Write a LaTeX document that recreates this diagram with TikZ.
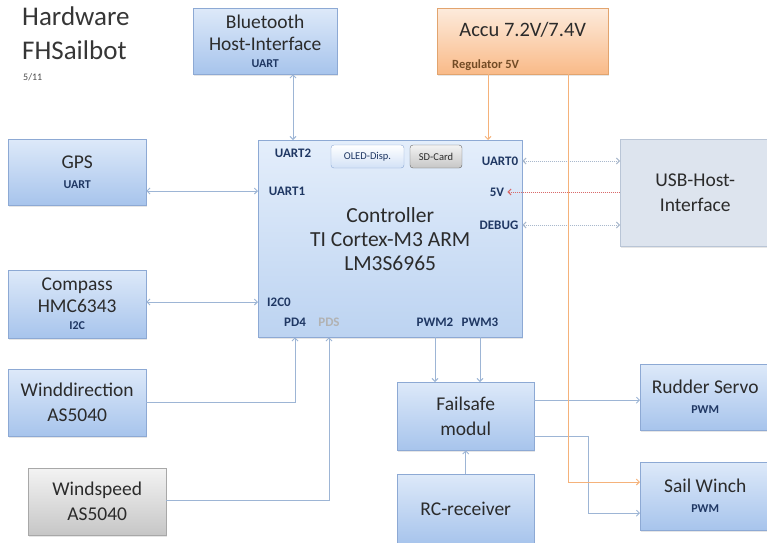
\documentclass[tikz,border=0pt]{standalone}
\usepackage{fontspec}
\setmainfont{Carlito}
\usetikzlibrary{positioning,arrows.meta,shadows}

\definecolor{txt}{HTML}{2B2B2B}
\definecolor{lbl}{HTML}{1F3763}
\definecolor{boxtop}{HTML}{DDE9F9}
\definecolor{boxbot}{HTML}{A7C4EC}
\definecolor{boxline}{HTML}{8DA9D4}
\definecolor{ctrtop}{HTML}{E4EEFB}
\definecolor{ctrbot}{HTML}{BCD3F1}
\definecolor{acctop}{HTML}{FDEBDC}
\definecolor{accbot}{HTML}{F9BA88}
\definecolor{accline}{HTML}{E2A46E}
\definecolor{grytop}{HTML}{F3F3F3}
\definecolor{grybot}{HTML}{C6C6C6}
\definecolor{gryline}{HTML}{A8A8A8}
\definecolor{usbfill}{HTML}{DDE4EE}
\definecolor{usbline}{HTML}{B9C5D6}
\definecolor{wire}{HTML}{9DB5D5}
\definecolor{pwr}{HTML}{F5B27A}
\definecolor{dbg}{HTML}{A9B8CC}
\definecolor{vcc}{HTML}{D86A6A}

\newcommand{\subtxt}[1]{{\fontsize{12}{14}\selectfont\bfseries\color{lbl}#1}}

\tikzset{>={Straight Barb[length=3pt,width=6pt]}}
\tikzset{
  block/.style={draw=boxline, top color=boxtop, bottom color=boxbot,
    anchor=north west, inner sep=0pt, align=center, text=txt,
    font=\fontsize{19.5}{25}\selectfont,
    drop shadow={opacity=0.2, shadow xshift=1pt, shadow yshift=-1.5pt}},
  grayblock/.style={block, draw=gryline, top color=grytop, bottom color=grybot},
  pin/.style={font=\fontsize{13}{15}\selectfont\bfseries, text=lbl, inner sep=0pt},
  chip/.style={rounded corners=3pt, minimum height=23pt, inner sep=0pt,
    font=\fontsize{10.5}{12}\selectfont},
  wire/.style={draw=wire, line width=0.9pt},
  power/.style={draw=pwr, line width=1pt},
  usblink/.style={draw=dbg, densely dotted, line width=1pt},
}

\begin{document}
\begin{tikzpicture}[x=1pt, y=-1pt]
  \useasboundingbox (0,0) rectangle (767,542);

  % title
  \node[anchor=north west, align=left, text=txt!95, inner sep=0pt,
    font=\fontsize{27}{34}\selectfont] (title) at (22,7) {Hardware\\FHSailbot};
  \node[anchor=north west, inner sep=0pt, text=txt!85,
    font=\fontsize{10}{12}\selectfont] (date) at (23,73) {5/11};

  % top row
  \node[block, minimum width=144pt, minimum height=66pt] (bt) at (193,8)
    {Bluetooth\\[-3pt]Host-Interface\\[-8pt]\subtxt{UART}};
  \node[block, draw=accline, top color=acctop, bottom color=accbot,
    minimum width=171pt, minimum height=66pt] (accu) at (437,8) {};
  \node[inner sep=0pt, text=txt, font=\fontsize{20.5}{24}\selectfont] (accutxt)
    at ([yshift=-22pt]accu.north) {Accu 7.2V/7.4V};
  \node[anchor=south west, inner sep=0pt, text=brown!60!black,
    font=\fontsize{12.5}{14}\selectfont\bfseries] (reg)
    at ([xshift=15pt,yshift=4pt]accu.south west) {Regulator 5V};

  % controller
  \node[block, top color=ctrtop, bottom color=ctrbot,
    minimum width=264pt, minimum height=197pt,
    font=\fontsize{21.5}{24}\selectfont] (ctrl) at (258,140)
    {Controller\\TI Cortex-M3 ARM\\LM3S6965};
  \node[chip, draw=boxline, top color=white, bottom color=boxtop!80!boxbot,
    minimum width=73pt, text=lbl] (oled) at (367.5,156.5) {OLED-Disp.};
  \node[chip, draw=gray!80!black, top color=grytop, bottom color=grybot,
    minimum width=52pt, text=txt] (sd) at (436,156.5) {SD-Card};
  \node[pin] (uart2) at (293,153) {UART2};
  \node[pin] (uart1) at (287,191) {UART1};
  \node[pin] (i2c0) at (279,302) {I2C0};
  \node[pin] (pd4) at (295,322) {PD4};
  \node[pin, text=gray!60] (pd5) at (329,322) {PDS};
  \node[pin] (pwm2) at (435,322) {PWM2};
  \node[pin] (pwm3) at (480,322) {PWM3};
  \node[pin] (uart0) at (500,161) {UART0};
  \node[pin] (v5) at (497,192) {5V};
  \node[pin] (debug) at (499,225) {DEBUG};

  % usb
  \node[block, draw=usbline, top color=usbfill, bottom color=usbfill,
    minimum width=150pt, minimum height=107pt] (usb) at (620,139)
    {USB-Host-\\Interface};

  % sensors
  \node[block, minimum width=138pt, minimum height=66pt] (gps) at (8,139)
    {GPS\\[-5pt]\subtxt{UART}};
  \node[block, minimum width=138pt, minimum height=68pt] (compass) at (8,270)
    {Compass\\[-3pt]HMC6343\\[-8pt]\subtxt{I2C}};
  \node[block, minimum width=138pt, minimum height=67pt] (winddir) at (8,369)
    {Winddirection\\AS5040};
  \node[grayblock, minimum width=138pt, minimum height=67pt] (windspd) at (28,468)
    {Windspeed\\AS5040};

  % actuators
  \node[block, minimum width=137pt, minimum height=68pt] (fail) at (397,382)
    {Failsafe\\modul};
  \node[block, minimum width=137pt, minimum height=70pt] (rc) at (397,474)
    {RC-receiver};
  \node[block, minimum width=130pt, minimum height=66pt] (rudder) at (640,364)
    {Rudder Servo\\[-5pt]\subtxt{PWM}};
  \node[block, minimum width=130pt, minimum height=68pt] (winch) at (640,462)
    {Sail Winch\\[-5pt]\subtxt{PWM}};

  % connections
  \draw[wire, <->] (bt.south -| uart2) -- (ctrl.north -| uart2);
  \draw[wire, <->] (gps.east |- uart1) -- (ctrl.west |- uart1);
  \draw[wire, <->] (compass.east |- i2c0) -- (ctrl.west |- i2c0);
  \draw[wire, ->] (winddir.east) -| (ctrl.south -| pd4);
  \draw[wire, ->] ([yshift=1pt]windspd.east) -| (ctrl.south -| pd5);
  \draw[wire, ->] (ctrl.south -| pwm2) -- (fail.north -| pwm2);
  \draw[wire, ->] (ctrl.south -| pwm3) -- (fail.north -| pwm3);
  \draw[wire, ->] (rc.north) -- (fail.south);
  \draw[wire, ->] ([yshift=16pt]fail.east) -- ([yshift=16pt]fail.east -| rudder.west);
  \coordinate (bend) at (588,436);
  \draw[wire, ->] (fail.east |- bend) -- (bend) |- ([yshift=-17pt]winch.west);

  % usb links
  \draw[usblink, <->] (ctrl.east |- uart0) -- (usb.west |- uart0);
  \draw[usblink, draw=vcc, <-] ([xshift=3pt]v5.east) -- (usb.west |- v5);
  \draw[usblink, <->] (ctrl.east |- debug) -- (usb.west |- debug);

  % power
  \coordinate (tap1) at (488,0);
  \coordinate (tap2) at (568,0);
  \draw[power, ->] (accu.south -| tap1) -- (ctrl.north -| tap1);
  \draw[power, ->] (accu.south -| tap2) |- ([yshift=-20pt]winch.north west);
\end{tikzpicture}
\end{document}
